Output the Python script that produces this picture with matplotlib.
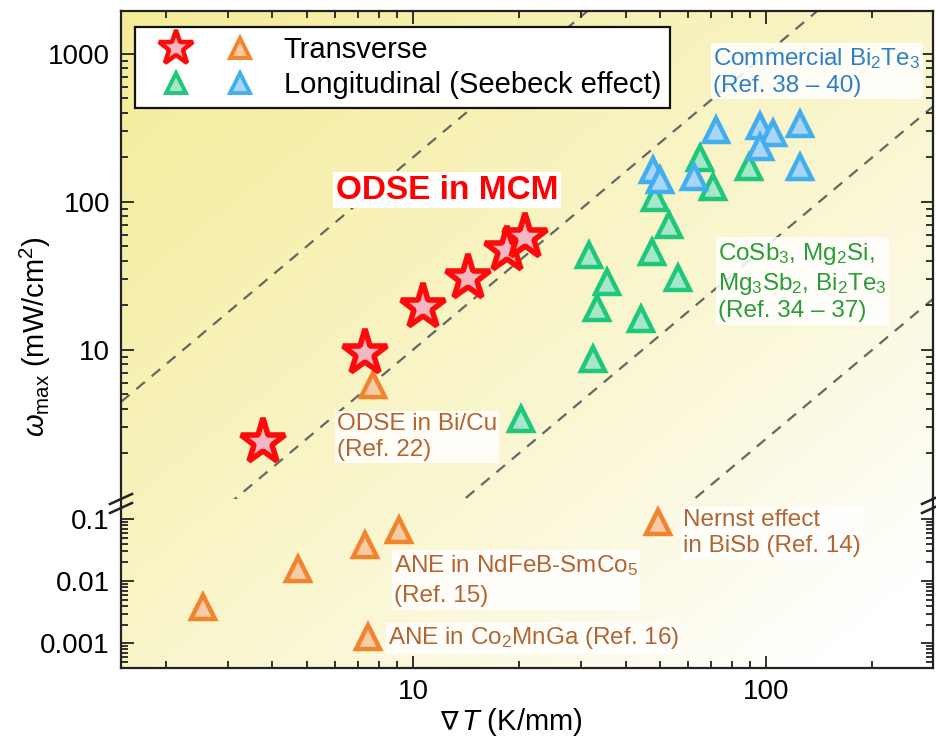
import numpy as np
import matplotlib
matplotlib.use('Agg')
import matplotlib.pyplot as plt
from matplotlib.legend_handler import HandlerTuple
from matplotlib.lines import Line2D
from matplotlib.ticker import FixedLocator, FixedFormatter, LogLocator, NullFormatter

plt.rcParams['font.family'] = ['Liberation Sans', 'DejaVu Sans']
plt.rcParams['mathtext.fontset'] = 'custom'
plt.rcParams['mathtext.rm'] = 'Liberation Sans'
plt.rcParams['mathtext.it'] = 'Liberation Sans:italic'
plt.rcParams['mathtext.bf'] = 'Liberation Sans:bold'

# ---------------- data ----------------
odse_mcm_dT = [3.76, 7.31, 10.7, 14.3, 18.5, 20.8]
odse_mcm_w = [2.39, 9.55, 19.6, 30.6, 47.0, 58.0]

odse_bicu_dT = [7.7]
odse_bicu_w = [5.8]

trans_low_dT = [2.54, 4.72, 7.3, 9.13, 7.47, 49.4]
trans_low_w = [0.0038, 0.0156, 0.038, 0.066, 0.00125, 0.089]

long_dT = [65, 89.6, 70.8, 48.5, 53.1, 31.5, 47.5, 35.5, 56.3, 33.2, 44.3, 32.4, 20.2]
long_w = [198, 172, 126, 106, 70, 43.9, 45.9, 28.8, 30.6, 19.2, 16.2, 8.7, 3.42]

comm_dT = [72.1, 96.1, 104.8, 124.7, 96.1, 124.7, 47.9, 50.1, 62.5]
comm_w = [306, 326, 292, 336, 235, 172, 165, 141, 148]

guide_coeffs = [2.0, 0.1, 0.005, 0.00025]   # w = c * dT^2

x_lim = (1.49, 297)
y_top_lim = (0.98, 1950)
y_bot_lim = (0.0004, 0.156)

x_major = [10, 100]
x_major_labels = ['10', '100']
y_top_major = [10, 100, 1000]
y_top_labels = ['10', '100', '1000']
y_bot_major = [0.001, 0.01, 0.1]
y_bot_labels = ['0.001', '0.01', '0.1']

legend_labels = ['Transverse', 'Longitudinal (Seebeck effect)']

# ---------------- styles ----------------
RED_E, RED_F = '#FF0A0A', '#F7B7C2'
ORA_E, ORA_F = '#F1842C', '#F6CBA8'
GRN_E, GRN_F = '#1FC77B', '#A6E6C9'
BLU_E, BLU_F = '#42AEF0', '#A9D6F4'
TXT_BLUE = '#2E7FC4'
TXT_GREEN = '#2B9C36'
TXT_BROWN = '#B4652F'

W_FIG, H_FIG = 936, 741
fig = plt.figure(figsize=(W_FIG / 100, H_FIG / 100), dpi=100)

def fy(py):
    return 1 - py / H_FIG

L, R = 121 / W_FIG, 933 / W_FIG
AW = R - L
top_t, top_b = 11, 499
bot_t, bot_b = 507, 668

bg = fig.add_axes([L, fy(bot_b), AW, fy(top_t) - fy(bot_b)], zorder=0)
ny, nx = 300, 400
u = np.linspace(0, 1, nx)[None, :]
v = np.linspace(0, 1, ny)[:, None]
t = 0.5 * u + 0.5 * v
s = np.clip(1 - t / 0.92, 0, 1) ** 0.85
yellow = np.array([244, 236, 152]) / 255
img = 1 - (1 - yellow)[None, None, :] * s[:, :, None]
bg.imshow(img, aspect='auto', extent=[0, 1, 0, 1], origin='upper')
bg.axis('off')

ax_top = fig.add_axes([L, fy(top_b), AW, fy(top_t) - fy(top_b)], zorder=2)
ax_bot = fig.add_axes([L, fy(bot_b), AW, fy(bot_t) - fy(bot_b)], zorder=2)

for ax in (ax_top, ax_bot):
    ax.set_facecolor('none')
    ax.set_xscale('log')
    ax.set_yscale('log')
    ax.set_xlim(*x_lim)
    ax.xaxis.set_major_locator(FixedLocator(x_major))
    ax.xaxis.set_major_formatter(FixedFormatter(x_major_labels))
    ax.xaxis.set_minor_locator(LogLocator(base=10, subs=np.arange(2, 10)))
    ax.xaxis.set_minor_formatter(NullFormatter())
    ax.yaxis.set_minor_locator(LogLocator(base=10, subs=np.arange(2, 10), numticks=20))
    ax.yaxis.set_minor_formatter(NullFormatter())
    ax.tick_params(which='both', direction='in', right=True, width=1.3, labelsize=20, color='#222222')
    ax.tick_params(which='major', length=9, pad=8)
    ax.tick_params(which='minor', length=5)
    for sp in ax.spines.values():
        sp.set_linewidth(1.6)
        sp.set_color('#222222')

ax_top.set_ylim(*y_top_lim)
ax_top.yaxis.set_major_locator(FixedLocator(y_top_major))
ax_top.yaxis.set_major_formatter(FixedFormatter(y_top_labels))
ax_top.spines['bottom'].set_visible(False)
ax_top.tick_params(which='both', bottom=False, top=True, labelbottom=False)

ax_bot.set_ylim(*y_bot_lim)
ax_bot.yaxis.set_major_locator(FixedLocator(y_bot_major))
ax_bot.yaxis.set_major_formatter(FixedFormatter(y_bot_labels))
ax_bot.spines['top'].set_visible(False)
ax_bot.tick_params(which='both', top=False, bottom=True)

# guide lines w ~ dT^2
xg = np.array(x_lim)
for c in guide_coeffs:
    ax_top.plot(xg, c * xg ** 2, ls=(0, (5, 4)), color='#666666', lw=1.6, zorder=1)

tri_kw = dict(ls='none', marker='^', ms=17, mew=3.2)
ax_top.plot(long_dT, long_w, mfc=GRN_F, mec=GRN_E, zorder=3, **tri_kw)
ax_top.plot(comm_dT, comm_w, mfc=BLU_F, mec=BLU_E, zorder=4, **tri_kw)
ax_top.plot(odse_bicu_dT, odse_bicu_w, mfc=ORA_F, mec=ORA_E, zorder=3, **tri_kw)
ax_bot.plot(trans_low_dT, trans_low_w, mfc=ORA_F, mec=ORA_E, zorder=3, clip_on=False, **tri_kw)
ax_top.plot(odse_mcm_dT, odse_mcm_w, ls='none', marker='*', ms=34, mew=4,
            mfc=RED_F, mec=RED_E, zorder=5)

# legend
h_star = Line2D([], [], ls='none', marker='*', ms=26, mew=3.2, mfc=RED_F, mec=RED_E)
h_o = Line2D([], [], ls='none', marker='^', ms=14, mew=2.8, mfc=ORA_F, mec=ORA_E)
h_g = Line2D([], [], ls='none', marker='^', ms=14, mew=2.8, mfc=GRN_F, mec=GRN_E)
h_b = Line2D([], [], ls='none', marker='^', ms=14, mew=2.8, mfc=BLU_F, mec=BLU_E)
leg = ax_top.legend([(h_star, h_o), (h_g, h_b)], legend_labels,
                    handler_map={tuple: HandlerTuple(ndivide=None, pad=0)},
                    loc='upper left', bbox_to_anchor=(0.017, 0.967), borderaxespad=0,
                    fontsize=21, handlelength=4.4, handletextpad=0.4, frameon=True,
                    fancybox=False, edgecolor='#111111', framealpha=1,
                    borderpad=0.3, labelspacing=0.25)
leg.get_frame().set_linewidth(1.6)
leg.set_zorder(10)

# annotations
bb = dict(facecolor='white', edgecolor='none', alpha=0.85, pad=1.5)
ax_top.text(12.5, 120, 'ODSE in MCM', color='#FF0000', fontsize=24, fontweight='bold',
            ha='center', va='center', zorder=6,
            bbox=dict(facecolor='white', edgecolor='none', alpha=1, pad=2))
ax_top.text(70.8, 762, 'Commercial Bi$_2$Te$_3$\n(Ref. 38 – 40)', color=TXT_BLUE,
            fontsize=17.5, ha='left', va='center', zorder=6, linespacing=1.25, bbox=bb)
ax_top.text(73.1, 28.8, 'CoSb$_3$, Mg$_2$Si,\nMg$_3$Sb$_2$, Bi$_2$Te$_3$\n(Ref. 34 – 37)',
            color=TXT_GREEN, fontsize=17.5, ha='left', va='center', zorder=6,
            linespacing=1.2, bbox=bb)
ax_top.text(6.1, 2.58, 'ODSE in Bi/Cu\n(Ref. 22)', color=TXT_BROWN, fontsize=17.5,
            ha='left', va='center', zorder=6, linespacing=1.2, bbox=bb)
ax_bot.text(8.84, 0.0104, 'ANE in NdFeB-SmCo$_5$\n(Ref. 15)', color=TXT_BROWN, fontsize=17.5,
            ha='left', va='center', zorder=6, linespacing=1.45, bbox=bb)
ax_bot.text(8.5, 0.0012, 'ANE in Co$_2$MnGa (Ref. 16)', color=TXT_BROWN, fontsize=17.5,
            ha='left', va='center', zorder=6, bbox=bb)
ax_bot.text(58.2, 0.0595, 'Nernst effect\nin BiSb (Ref. 14)', color=TXT_BROWN, fontsize=17.5,
            ha='left', va='center', zorder=6, linespacing=1.2, bbox=bb)

# axis labels
fig.text(458 / W_FIG, fy(722), '∇', fontsize=19, family='DejaVu Sans',
         ha='right', va='center')
fig.text(461 / W_FIG, fy(722), '$\\mathit{T}$ (K/mm)', fontsize=21,
         ha='left', va='center')
fig.text(35 / W_FIG, fy(337), '$\\omega_{\\rm max}$ (mW/cm$^2$)', fontsize=21,
         ha='center', va='center', rotation=90)

# axis break marks
for xpx in (121, 933):
    for ypx in (499, 508):
        fig.add_artist(Line2D([(xpx - 11) / W_FIG, (xpx + 11) / W_FIG],
                              [fy(ypx + 5), fy(ypx - 5)], color='#222222', lw=1.8))
    fig.add_artist(Line2D([xpx / W_FIG, xpx / W_FIG], [fy(top_b), fy(bot_t)],
                          color='#222222', lw=1.6))

fig.savefig('out.png', dpi=100)
